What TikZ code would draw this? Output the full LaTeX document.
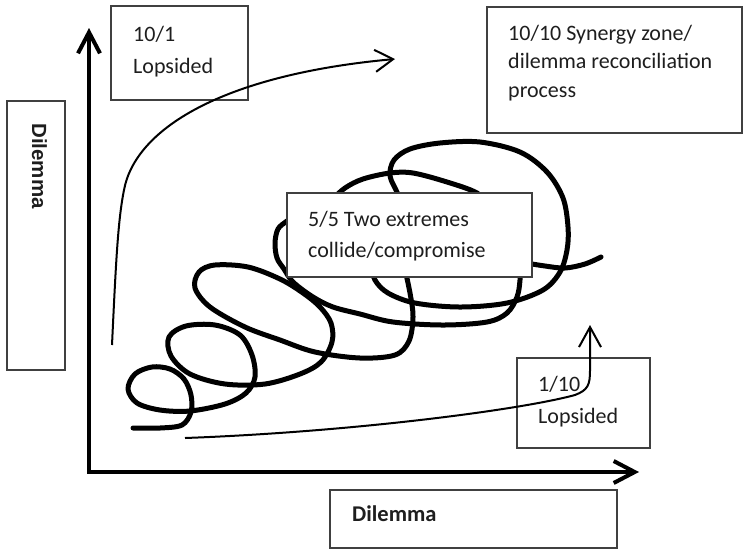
\documentclass[tikz,border=0pt]{standalone}
\usepackage{fontspec}
\setmainfont{Carlito}
\newfontfamily\arialfont{Liberation Sans}
\usetikzlibrary{arrows.meta}
\definecolor{boxgray}{HTML}{404040}
\definecolor{txt}{HTML}{1E1E1E}
\begin{document}
\begin{tikzpicture}[x=1pt,y=-1pt,
  box/.style={draw=boxgray, line width=1.3pt, fill=white, inner sep=0pt},
  lbl/.style={anchor=base west, inner sep=0pt, text=txt, font=\fontsize{22}{26}\selectfont},
  axis/.style={line width=4pt, line join=miter},
  thincurve/.style={line width=2pt},
  scribble/.style={line width=5pt, line cap=round, line join=round}]
\useasboundingbox (0,0) rectangle (743,550);

% scribble (drawn first, partly hidden by the 5/5 box)
\draw[scribble] plot[smooth, tension=0.55] coordinates {(133,428) (160,428) (182,425) (191,412) (191,395) (184,379) (170,369) (152,367) (135,374) (128,389) (137,403) (160,410) (190,411) (225,404) (246,393) (255,377) (252,355) (240,335) (215,325) (186,326) (169,337) (171,356) (190,374) (225,384) (265,384) (300,374) (321,362) (332,342) (331,323) (320,307) (303,293) (280,279) (248,267) (215,265) (199,272) (195,288) (210,307) (245,327) (280,340) (315,352) (360,358) (395,355) (409,341) (413,317) (410,293) (404,265)};
\draw[scribble] plot[smooth, tension=0.55] coordinates {(401,215) (398,195) (390,176) (394,160) (410,149) (440,143) (480,142) (520,152) (547,172) (563,198) (568,227) (567,250) (560,272) (543,290) (507,303) (460,307) (415,303) (388,293) (375,280) (370,262)};
\draw[scribble] plot[smooth, tension=0.55] coordinates {(320,215) (332,200) (345,188) (363,179) (390,173) (413,173) (447,182) (477,193) (492,208)};
\draw[scribble] plot[smooth, tension=0.55] coordinates {(300,212) (287,221) (278,229) (275,243) (277,258) (284,269) (293,282) (313,297) (333,307) (360,314) (393,322) (443,325) (487,322) (507,313) (517,297) (520,280) (520,262)};
\draw[scribble] plot[smooth, tension=0.55] coordinates {(520,262) (545,266) (565,268) (585,264) (601,257)};

% boxes
\node[box, minimum width=137pt, minimum height=94pt] (b1) at (179.5,53) {};
\node[box, minimum width=255pt, minimum height=126pt] (b2) at (614.5,70) {};
\node[box, minimum width=245pt, minimum height=84pt] (b3) at (409.5,235) {};
\node[box, minimum width=133pt, minimum height=90pt] (b4) at (583.5,403) {};
\node[box, minimum width=58pt, minimum height=269pt] (bl) at (36,235.5) {};
\node[box, minimum width=287pt, minimum height=58pt] (bb) at (473.5,519) {};

% texts
\node[lbl] (t1a) at (133,41) {10/1};
\node[lbl] (t1b) at (133,73) {Lopsided};
\node[lbl] (t2a) at (508,40) {10/10 Synergy zone/};
\node[lbl] (t2b) at (508,68) {dilemma reconciliation};
\node[lbl] (t2c) at (508,97) {process};
\node[lbl] (t3a) at (308,226) {5/5 Two extremes};
\node[lbl] (t3b) at (308,257) {collide/compromise};
\node[lbl] (t4a) at (538,391) {1/10};
\node[lbl] (t4b) at (538,423) {Lopsided};
\node[anchor=base west, inner sep=0pt, text=txt, rotate=-90, font=\arialfont\bfseries\fontsize{20.5}{24}\selectfont] (tl) at (32,123) {Dilemma};
\node[lbl, font=\bfseries\fontsize{22.5}{26}\selectfont] (tb) at (352,521) {Dilemma};

% axes
\coordinate (O) at (89,472);
\coordinate (ytip) at (89,28);
\coordinate (xtip) at (639,472);
\draw[axis, {Straight Barb[length=21pt,width=22pt]}-{Straight Barb[length=21pt,width=22pt]}] (xtip) -- (O) -- (ytip);

% thin curved arrows
\coordinate (c1s) at (112,345);
\coordinate (c1e) at (395,59);
\draw[thincurve, -{Straight Barb[length=18pt,width=22pt]}] (c1s) .. controls (116,260) and (118,220) .. (124,190) .. controls (135,130) and (220,75) .. (c1e);
\coordinate (c2s) at (185,438);
\coordinate (c2e) at (590,325);
\draw[thincurve, -{Straight Barb[length=20pt,width=22pt]}] (c2s) .. controls (350,432) and (520,410) .. (575,395) .. controls (588,390) and (590,385) .. (590,370) -- (c2e);
\end{tikzpicture}
\end{document}
